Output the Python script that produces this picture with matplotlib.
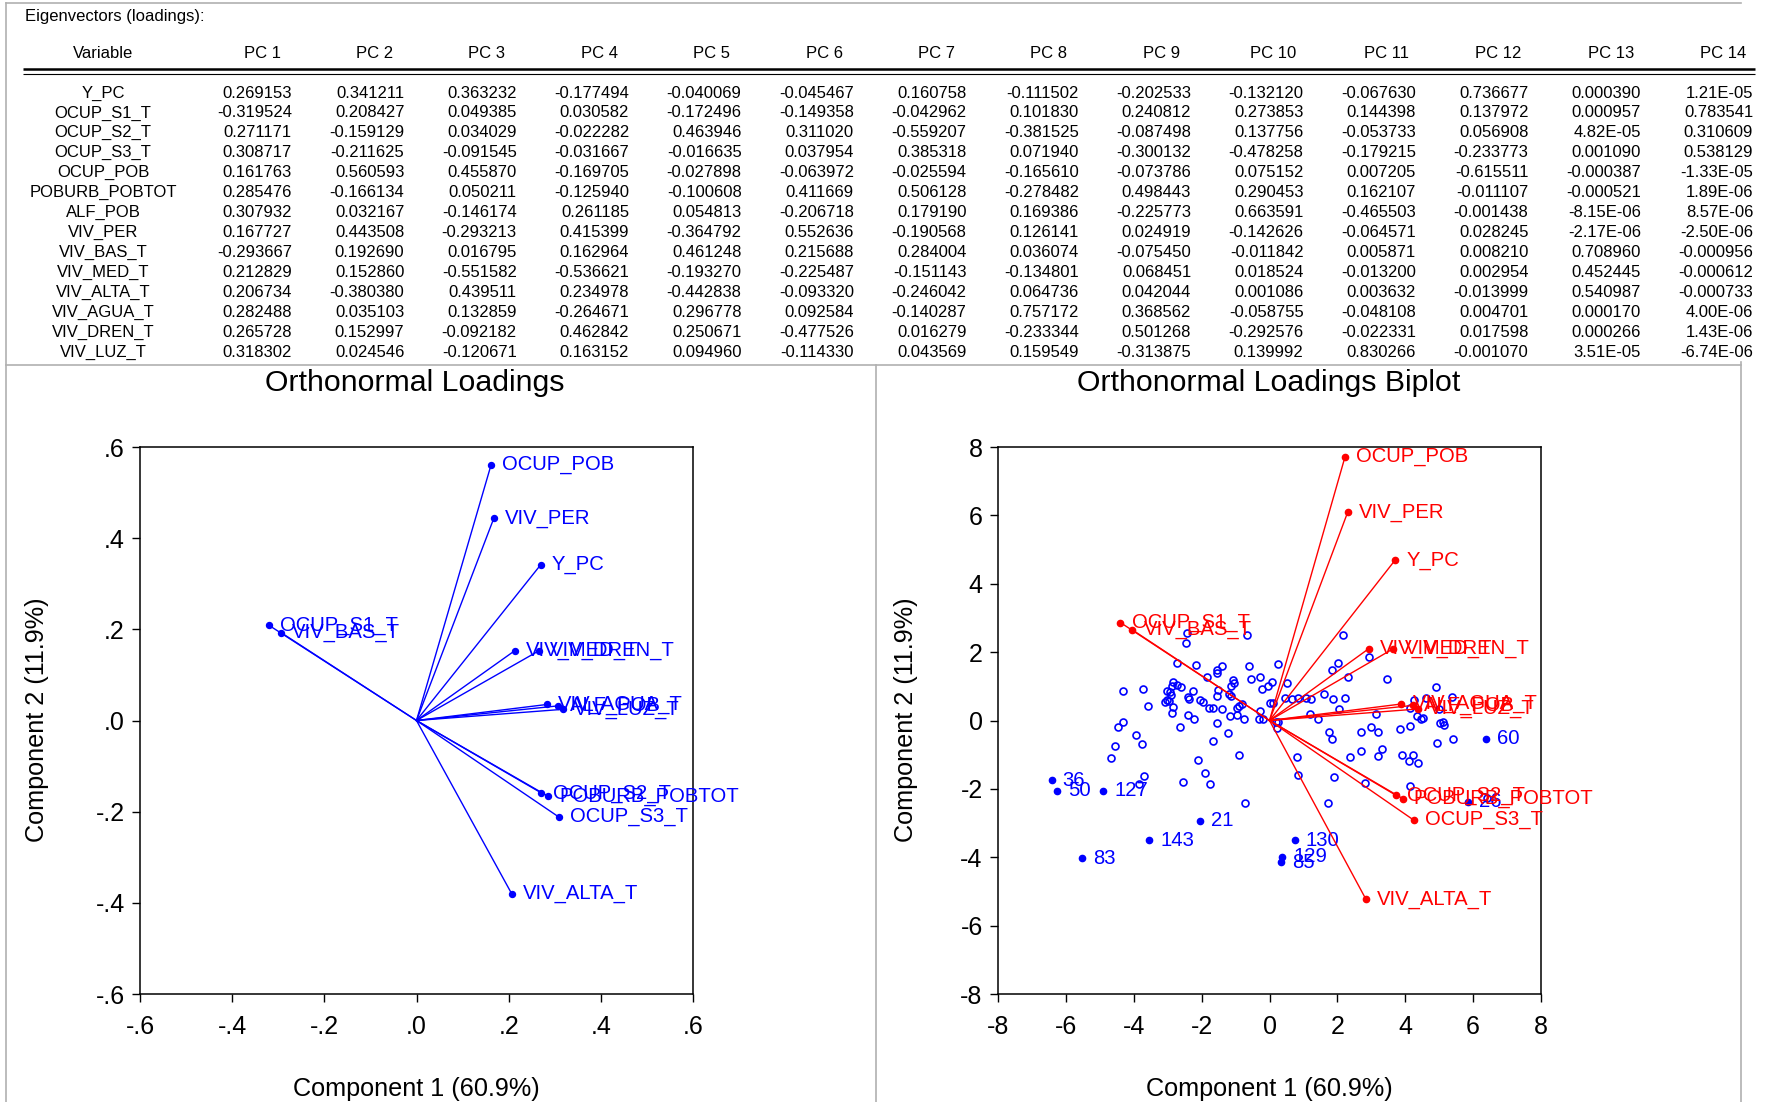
import matplotlib
matplotlib.use("Agg")
import matplotlib.pyplot as plt
from matplotlib.ticker import FixedLocator, FuncFormatter

plt.rcParams['font.family'] = ['Liberation Sans', 'DejaVu Sans']

# ---------------- data ----------------
variables = ["Y_PC", "OCUP_S1_T", "OCUP_S2_T", "OCUP_S3_T", "OCUP_POB", "POBURB_POBTOT",
             "ALF_POB", "VIV_PER", "VIV_BAS_T", "VIV_MED_T", "VIV_ALTA_T", "VIV_AGUA_T",
             "VIV_DREN_T", "VIV_LUZ_T"]

pc1 = [0.269153, -0.319524, 0.271171, 0.308717, 0.161763, 0.285476, 0.307932, 0.167727,
       -0.293667, 0.212829, 0.206734, 0.282488, 0.265728, 0.318302]
pc2 = [0.341211, 0.208427, -0.159129, -0.211625, 0.560593, -0.166134, 0.032167, 0.443508,
       0.192690, 0.152860, -0.380380, 0.035103, 0.152997, 0.024546]
pc3 = [0.363232, 0.049385, 0.034029, -0.091545, 0.455870, 0.050211, -0.146174, -0.293213,
       0.016795, -0.551582, 0.439511, 0.132859, -0.092182, -0.120671]
pc4 = [-0.177494, 0.030582, -0.022282, -0.031667, -0.169705, -0.125940, 0.261185, 0.415399,
       0.162964, -0.536621, 0.234978, -0.264671, 0.462842, 0.163152]
pc5 = [-0.040069, -0.172496, 0.463946, -0.016635, -0.027898, -0.100608, 0.054813, -0.364792,
       0.461248, -0.193270, -0.442838, 0.296778, 0.250671, 0.094960]
pc6 = [-0.045467, -0.149358, 0.311020, 0.037954, -0.063972, 0.411669, -0.206718, 0.552636,
       0.215688, -0.225487, -0.093320, 0.092584, -0.477526, -0.114330]
pc7 = [0.160758, -0.042962, -0.559207, 0.385318, -0.025594, 0.506128, 0.179190, -0.190568,
       0.284004, -0.151143, -0.246042, -0.140287, 0.016279, 0.043569]
pc8 = [-0.111502, 0.101830, -0.381525, 0.071940, -0.165610, -0.278482, 0.169386, 0.126141,
       0.036074, -0.134801, 0.064736, 0.757172, -0.233344, 0.159549]
pc9 = [-0.202533, 0.240812, -0.087498, -0.300132, -0.073786, 0.498443, -0.225773, 0.024919,
       -0.075450, 0.068451, 0.042044, 0.368562, 0.501268, -0.313875]
pc10 = [-0.132120, 0.273853, 0.137756, -0.478258, 0.075152, 0.290453, 0.663591, -0.142626,
        -0.011842, 0.018524, 0.001086, -0.058755, -0.292576, 0.139992]
pc11 = [-0.067630, 0.144398, -0.053733, -0.179215, 0.007205, 0.162107, -0.465503, -0.064571,
        0.005871, -0.013200, 0.003632, -0.048108, -0.022331, 0.830266]
pc12 = [0.736677, 0.137972, 0.056908, -0.233773, -0.615511, -0.011107, -0.001438, 0.028245,
        0.008210, 0.002954, -0.013999, 0.004701, 0.017598, -0.001070]
pc13 = [0.000390, 0.000957, 4.82e-05, 0.001090, -0.000387, -0.000521, -8.15e-06, -2.17e-06,
        0.708960, 0.452445, 0.540987, 0.000170, 0.000266, 3.51e-05]
pc14 = [1.21e-05, 0.783541, 0.310609, 0.538129, -1.33e-05, 1.89e-06, 8.57e-06, -2.50e-06,
        -0.000956, -0.000612, -0.000733, 4.00e-06, 1.43e-06, -6.74e-06]

pc_columns = [pc1, pc2, pc3, pc4, pc5, pc6, pc7, pc8, pc9, pc10, pc11, pc12, pc13, pc14]
pc_headers = ["PC %d" % (k + 1) for k in range(14)]

var_share = ["60.9%", "11.9%"]

# biplot scaling of the loading vectors
loading_scale = 13.75

# observation scores (unlabelled)
score_x = [-4.31, -3.73, -3.57, -4.32, -4.47, -3.93, -4.55, -3.75, -4.68, -3.70,
           -3.84, -2.54, -2.10, -1.90, -1.74, -0.89, -0.72, -2.64, -1.66, -1.21,
           -2.44, -2.46, -0.65, -2.72, -2.17, -1.83, -1.56, -1.54, -1.41, -0.60,
           0.24, -0.55, -0.28, -1.07, -1.04, -1.12, 0.07, -0.04, -0.23, 0.52,
           -2.83, -2.88, -2.72, -2.60, -3.02, -2.92, -2.91, -3.03, -3.07, -2.95,
           -2.85, -2.86, -2.41, -2.36, -2.41, -2.25, -2.05, -1.95, -1.54, -1.51,
           -1.18, -1.14, -1.77, -1.67, -1.39, -0.95, -0.89, -0.81, -2.23, -1.56,
           -1.17, -0.97, -0.75, -0.28, -0.32, -0.20, 0.01, 0.09, 0.46, 0.67,
           0.85, 1.09, 1.22, 1.61, 1.88, 2.21, 2.03, 1.83, 2.30, 2.04,
           1.19, 1.43, 0.19, 0.26, 0.21, 1.75, 1.83, 2.18, 2.92, 3.45,
           4.91, 4.26, 4.61, 5.37, 4.14, 5.00, 3.13, 4.34, 4.46, 4.53,
           5.02, 5.10, 5.13, 2.69, 2.99, 3.21, 3.85, 4.13, 5.40, 4.93,
           0.80, 0.84, 1.90, 1.71, 2.38, 2.69, 3.19, 3.31, 3.91, 4.24,
           4.12, 4.38, 2.81, 4.14, 6.40]
score_y = [0.87, 0.92, 0.41, -0.05, -0.18, -0.42, -0.76, -0.70, -1.11, -1.61,
           -1.87, -1.81, -1.17, -1.54, -1.87, -1.01, -2.40, -0.20, -0.60, -0.37,
           2.55, 2.26, 2.49, 1.67, 1.61, 1.26, 1.40, 1.48, 1.59, 1.60,
           1.64, 1.21, 1.26, 1.19, 1.11, 1.01, 1.14, 1.02, 0.93, 1.11,
           1.13, 1.01, 1.03, 0.99, 0.87, 0.82, 0.74, 0.60, 0.53, 0.56,
           0.40, 0.23, 0.68, 0.64, 0.17, 0.87, 0.60, 0.54, 0.73, 0.89,
           0.77, 0.72, 0.38, 0.38, 0.34, 0.36, 0.42, 0.47, 0.05, -0.08,
           0.13, 0.16, 0.04, 0.29, 0.04, 0.04, 0.52, 0.52, 0.67, 0.64,
           0.67, 0.67, 0.64, 0.77, 0.64, 0.67, 1.69, 1.47, 1.27, 0.35,
           0.19, 0.04, -0.05, -0.05, -0.23, -0.35, -0.53, 2.50, 1.85, 1.22,
           0.99, 0.60, 0.67, 0.68, 0.38, 0.33, 0.19, 0.13, 0.03, 0.08,
           -0.08, -0.04, -0.14, -0.33, -0.20, -0.35, -0.24, -0.17, -0.55, -0.67,
           -1.06, -1.58, -1.65, -2.40, -1.06, -0.88, -1.04, -0.82, -1.02, -1.02,
           -1.18, -1.23, -1.82, -1.93, -2.28]

# labelled observations
obs_labels = ["36", "50", "127", "21", "143", "83", "130", "129", "85", "60", "26"]
obs_x = [-6.42, -6.26, -4.90, -2.05, -3.55, -5.52, 0.74, 0.38, 0.35, 6.39, 5.84]
obs_y = [-1.75, -2.06, -2.05, -2.93, -3.51, -4.03, -3.50, -3.98, -4.14, -0.54, -2.37]

# ---------------- figure ----------------
W, H = 1769, 1102
fig = plt.figure(figsize=(W / 100, H / 100), dpi=100)

BLUE = "#0000ff"
RED = "#ff0000"
FRAME = "#b0b0b0"

ov = fig.add_axes([0, 0, 1, 1], zorder=-1)
ov.set_xlim(0, W)
ov.set_ylim(H, 0)
ov.axis("off")

# panel frames
ov.plot([6, 1741], [3, 3], color=FRAME, lw=1.2)
ov.plot([6, 6], [3, H], color=FRAME, lw=1.2)
ov.plot([6, 1741], [365, 365], color=FRAME, lw=1.2)
ov.plot([876, 876], [365, H], color=FRAME, lw=1.2)
ov.plot([1741, 1741], [362, H], color=FRAME, lw=1.2)


def fmt_loading(v):
    if v != 0 and abs(v) < 1e-4:
        return "%.2E" % v
    return "%.6f" % v


# eigenvector table
tfs = 12
ov.text(25, 16, "Eigenvectors (loadings):", fontsize=tfs, ha="left", va="center")
col_right = [292 + 112.4 * k for k in range(14)]
ov.text(103, 53, "Variable", fontsize=tfs, ha="center", va="center")
for k, hdr in enumerate(pc_headers):
    ov.text(col_right[k] - 30, 53, hdr, fontsize=tfs, ha="center", va="center")
ov.plot([23, 1755], [69, 69], color="black", lw=1.8, solid_capstyle="butt")
ov.plot([23, 1755], [73.5, 73.5], color="black", lw=0.8, solid_capstyle="butt")
for i, name in enumerate(variables):
    y = 93 + i * 19.93
    ov.text(103, y, name, fontsize=tfs, ha="center", va="center")
    for k, col in enumerate(pc_columns):
        ov.text(col_right[k], y, fmt_loading(col[i]), fontsize=tfs, ha="right", va="center")

# titles and axis labels
ov.text(415, 383, "Orthonormal Loadings", fontsize=21.8, ha="center", va="center")
ov.text(1269, 383, "Orthonormal Loadings Biplot", fontsize=21.8, ha="center", va="center")
for cx in (416, 1269):
    ov.text(cx, 1089, "Component 1 (%s)" % var_share[0], fontsize=18.2, ha="center", va="center")
for cx in (37, 906):
    ov.text(cx, 720, "Component 2 (%s)" % var_share[1], fontsize=18.2, ha="center",
            va="center", rotation=90)


def style_axes(ax):
    for s in ax.spines.values():
        s.set_linewidth(1.1)
    ax.tick_params(direction="out", length=6, width=1, labelsize=18, pad=5,
                   top=False, right=False)
    ax.tick_params(axis="x", pad=9)


# ---------------- left: loadings ----------------
axl = fig.add_axes([140 / W, 108 / H, 553 / W, 547 / H])
axl.set_xlim(-0.6, 0.6)
axl.set_ylim(-0.6, 0.6)
ticks_l = [-0.6, -0.4, -0.2, 0.0, 0.2, 0.4, 0.6]


def short_dec(v, pos=None):
    s = "%.1f" % v
    if s == "-0.0":
        s = "0.0"
    return s.replace("0.", ".", 1)


axl.xaxis.set_major_locator(FixedLocator(ticks_l))
axl.yaxis.set_major_locator(FixedLocator(ticks_l))
axl.xaxis.set_major_formatter(FuncFormatter(short_dec))
axl.yaxis.set_major_formatter(FuncFormatter(short_dec))
style_axes(axl)

for name, x, y in zip(variables, pc1, pc2):
    axl.plot([0, x], [0, y], color=BLUE, lw=1.0)
    axl.plot([x], [y], "o", color=BLUE, ms=4.3)
    axl.annotate(name, (x, y), xytext=(8, 0), textcoords="offset points",
                 color=BLUE, fontsize=14.6, ha="left", va="center")

# ---------------- right: biplot ----------------
axr = fig.add_axes([998 / W, 108 / H, 543 / W, 547 / H])
axr.set_xlim(-8, 8)
axr.set_ylim(-8, 8)
ticks_r = list(range(-8, 9, 2))
axr.xaxis.set_major_locator(FixedLocator(ticks_r))
axr.yaxis.set_major_locator(FixedLocator(ticks_r))
axr.xaxis.set_major_formatter(FuncFormatter(lambda v, p: "%d" % v))
axr.yaxis.set_major_formatter(FuncFormatter(lambda v, p: "%d" % v))
style_axes(axr)

axr.plot(score_x, score_y, "o", mfc="none", mec=BLUE, mew=1.2, ms=5.0, ls="none", zorder=2)
axr.plot(obs_x, obs_y, "o", color=BLUE, ms=4.5, ls="none", zorder=2)
for lab, x, y in zip(obs_labels, obs_x, obs_y):
    axr.annotate(lab, (x, y), xytext=(8, 0), textcoords="offset points",
                 color=BLUE, fontsize=14.6, ha="left", va="center", zorder=3)

for name, l1, l2 in zip(variables, pc1, pc2):
    x, y = l1 * loading_scale, l2 * loading_scale
    axr.plot([0, x], [0, y], color=RED, lw=1.0, zorder=4)
    axr.plot([x], [y], "o", color=RED, ms=4.5, zorder=4)
    axr.annotate(name, (x, y), xytext=(8, 0), textcoords="offset points",
                 color=RED, fontsize=14.6, ha="left", va="center", zorder=5)

fig.savefig("out.png", dpi=100)
